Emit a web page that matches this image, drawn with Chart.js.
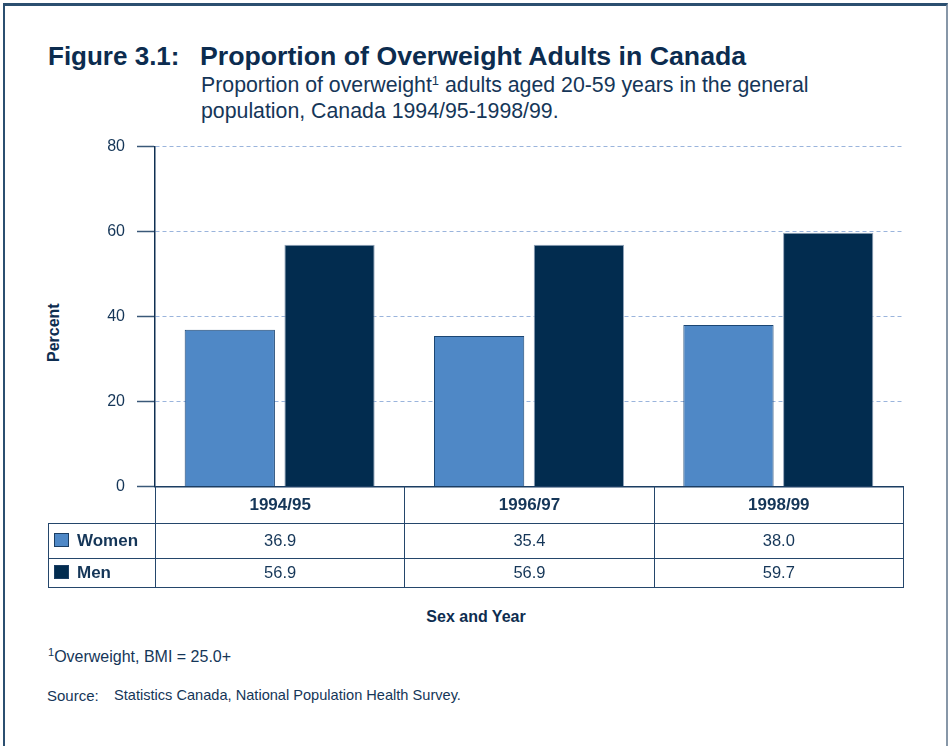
<!DOCTYPE html>
<html>
<head>
<meta charset="utf-8">
<script src="https://cdn.jsdelivr.net/npm/chart.js@4"></script>
<style>
  body { margin: 0; background: #fff; font-family: "Liberation Sans", Arial, sans-serif; color: #0e2d50; }
  #page { position: relative; width: 948px; height: 746px; overflow: hidden; }
  #frame { position: absolute; left: 3px; top: 3px; width: 941px; height: 760px;
           border-top: 3px solid #2b4f70; border-left: 2px solid #2b4f70; border-right: 2px solid #8797a8; }
  .txt { position: absolute; white-space: nowrap; line-height: 1; }
  #chartWrap { position: absolute; left: 0; top: 125px; }
  #tbl { position: absolute; border-collapse: collapse; table-layout: fixed; }
  #tbl td { padding: 0; font-size: 16.5px; text-align: center; border: 1px solid #24466b; color: #153658; }
  #tbl .yr { font-weight: bold; font-size: 17px; }
  #tbl .lab { text-align: left; font-weight: bold; font-size: 17px; }
  .sw { display: inline-block; width: 13px; height: 12px; vertical-align: -1px; margin: 0 8px 0 5px; border: 1px solid #1b3e63; }
</style>
</head>
<body>
<div id="page">
  <div id="frame"></div>
  <div class="txt" style="left:48px;top:43px;font-size:26px;font-weight:bold;color:#0c2c4f">Figure 3.1:</div>
  <div class="txt" style="left:200px;top:43px;font-size:26.7px;font-weight:bold;color:#0c2c4f">Proportion of Overweight Adults in Canada</div>
  <div class="txt" style="left:201px;top:72px;font-size:21.3px;line-height:26px;color:#153658">Proportion of overweight<sup style="font-size:13px;vertical-align:7px;line-height:0">1</sup> adults aged 20-59 years in the general<br>population, Canada 1994/95-1998/99.</div>
  <div class="txt" style="left:46px;top:362px;font-size:16px;font-weight:bold;transform:rotate(-90deg);transform-origin:0 0">Percent</div>
  <div id="chartWrap"><canvas id="chart" width="948" height="383"></canvas></div>
  <table id="tbl"></table>
  <div class="txt" style="left:0;width:952px;text-align:center;top:609px;font-size:16px;font-weight:bold">Sex and Year</div>
  <div class="txt" style="left:48px;top:649px;font-size:16px;color:#153658"><sup style="font-size:11px;vertical-align:6px;line-height:0">1</sup>Overweight, BMI = 25.0+</div>
  <div class="txt" style="left:47px;top:688px;font-size:15px;color:#153658">Source:</div>
  <div class="txt" style="left:114px;top:688px;font-size:14.6px;color:#153658">Statistics Canada, National Population Health Survey.</div>
</div>

<script>
const years = ["1994/95", "1996/97", "1998/99"];
const women = [36.9, 35.4, 38.0];
const men = [56.9, 56.9, 59.7];
const yTicks = [0, 20, 40, 60, 80];

const womenColor = "#4f88c6";
const menColor = "#022c4f";

const chart = new Chart(document.getElementById("chart"), {
  type: "bar",
  data: {
    labels: years,
    datasets: [
      {
        label: "Women",
        data: women,
        backgroundColor: womenColor,
        borderColor: "#1b4673",
        borderWidth: 1,
        categoryPercentage: 0.8,
        barPercentage: 0.905
      },
      {
        label: "Men",
        data: men,
        backgroundColor: menColor,
        borderColor: "#8fa2b8",
        borderWidth: 1,
        categoryPercentage: 0.8,
        barPercentage: 0.905
      }
    ]
  },
  options: {
    responsive: false,
    animation: false,
    devicePixelRatio: 1,
    layout: { padding: { left: 0, top: 12, right: 45, bottom: 4 } },
    plugins: {
      legend: { display: false },
      tooltip: { enabled: false }
    },
    scales: {
      x: {
        grid: { display: false },
        ticks: { display: false },
        border: { color: "#1b3d62", width: 1.5 },
        afterFit: s => { s.height = 0; }
      },
      y: {
        min: 0,
        max: 80,
        afterBuildTicks: s => { s.ticks = yTicks.map(v => ({ value: v })); },
        afterFit: s => { s.width = 155; },
        ticks: {
          color: "#153658",
          padding: 12,
          font: { family: "Liberation Sans", size: 16 }
        },
        grid: {
          color: ctx => ctx.tick && ctx.tick.value === 0 ? "rgba(0,0,0,0)" : "#9ab4dc",
          lineWidth: 1,
          tickColor: "#3a5878",
          tickLength: 18,
          tickWidth: 1.5,
          tickBorderDash: []
        },
        border: { color: "#0f2f52", width: 1.5, dash: [4, 3] }
      }
    }
  }
});

// data table under the plot, columns lined up with the category scale
function buildTable() {
  const area = chart.chartArea;
  const top = 125 + area.bottom;
  const left = 48;
  const colW = (area.right - area.left) / years.length;
  const tbl = document.getElementById("tbl");
  tbl.style.left = left + "px";
  tbl.style.top = top + "px";
  tbl.style.width = (area.right - left) + "px";

  let html = `<colgroup><col style="width:${area.left - left}px">`;
  years.forEach(() => { html += `<col style="width:${colW}px">`; });
  html += `</colgroup>`;

  html += `<tr style="height:37px"><td style="border-top:none;border-left:none"></td>`;
  years.forEach(y => { html += `<td class="yr" style="border-top:none">${y}</td>`; });
  html += `</tr>`;

  html += `<tr style="height:35px"><td class="lab"><span class="sw" style="background:${womenColor}"></span>Women</td>`;
  women.forEach(v => { html += `<td>${v.toFixed(1)}</td>`; });
  html += `</tr>`;

  html += `<tr style="height:29px"><td class="lab"><span class="sw" style="background:${menColor}"></span>Men</td>`;
  men.forEach(v => { html += `<td>${v.toFixed(1)}</td>`; });
  html += `</tr>`;

  tbl.innerHTML = html;
}
buildTable();
</script>
</body>
</html>
